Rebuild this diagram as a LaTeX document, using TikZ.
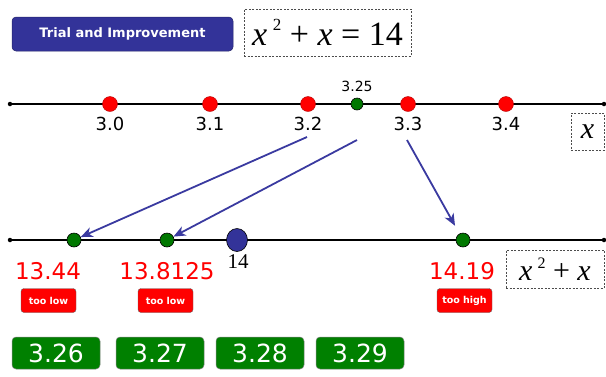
\documentclass[tikz,border=0pt]{standalone}
\usepackage{fontspec}
\setmainfont{Liberation Serif}
\newfontfamily\comic{DejaVu Sans}
\usetikzlibrary{arrows.meta,shapes.geometric}
\definecolor{navy}{RGB}{51,51,153}
\definecolor{arrblue}{RGB}{58,58,160}
\definecolor{btngreen}{RGB}{0,128,0}
\definecolor{dotgreen}{RGB}{0,120,0}
\tikzset{
  dashbox/.style={draw=black!70, dashed, dash pattern=on 2pt off 1.5pt, line width=0.6pt, inner sep=0pt},
  reddot/.style={circle, fill=red, draw=red!70!black, line width=0.4pt, minimum size=15pt, inner sep=0pt},
  greendot/.style={circle, fill=dotgreen, draw=black, line width=0.6pt, minimum size=14pt, inner sep=0pt},
  enddot/.style={circle, fill=black, minimum size=4.5pt, inner sep=0pt},
  axislabel/.style={font=\comic\fontsize{18}{18}\selectfont},
  redval/.style={text=red, font=\comic\fontsize{23}{23}\selectfont},
  verdict/.style={rounded corners=3pt, fill=red, draw=black!60, line width=0.4pt, minimum width=55pt, minimum height=24pt, inner sep=0pt, text=white, font=\comic\bfseries\fontsize{9.5}{9.5}\selectfont},
  tryit/.style={rounded corners=4pt, fill=btngreen, draw=black!50, line width=0.5pt, minimum width=88pt, minimum height=32pt, inner sep=0pt, text=white, font=\comic\fontsize{25}{25}\selectfont},
  arr/.style={draw=arrblue, line width=1.8pt, -{Stealth[length=12pt,width=10pt,inset=3.5pt]}}
}
\begin{document}
\begin{tikzpicture}[x=1pt,y=-1pt]
\useasboundingbox (0,0) rectangle (606,376);
% title
\node[rounded corners=4pt, fill=navy, draw=navy!70!black, line width=0.5pt, minimum width=221pt, minimum height=34pt, inner sep=0pt, text=white, font=\comic\bfseries\fontsize{13}{13}\selectfont] (title) at (122.5,34) {Trial and Improvement};
\node[dashbox, minimum width=167pt, minimum height=47pt, font=\fontsize{34}{34}\selectfont] (eq) at (327.5,32.5) {\itshape x\,\raisebox{0.42em}{\upshape\fontsize{17}{17}\selectfont 2} \upshape+ \itshape x \upshape= 14};
% top axis
\node[enddot] (tl) at (10,104) {};
\node[enddot] (tr) at (604,104) {};
\draw[line width=1.3pt] (tl) -- (tr);
\foreach \n/\xx/\lab in {30/110/3.0, 31/210/3.1, 32/308/3.2, 33/408/3.3, 34/506/3.4}{
  \node[reddot] (d\n) at (\xx,104) {};
  \node[axislabel] (l\n) at (\xx,123.5) {\lab};
}
\node[greendot, minimum size=12pt] (g325) at (357,104) {};
\node[font=\comic\fontsize{14}{14}\selectfont] (l325) at (357,86) {3.25};
\node[dashbox, minimum width=33pt, minimum height=37pt, font=\itshape\fontsize{30}{30}\selectfont] (xb) at (587.5,131.5) {x};
% bottom axis
\node[enddot] (bl) at (10,240) {};
\node[enddot] (br) at (604,240) {};
\draw[line width=1.3pt] (bl) -- (br);
\node[greendot] (g1) at (74,240) {};
\node[greendot] (g2) at (167,240) {};
\node[greendot] (g3) at (463,240) {};
\node[ellipse, fill=navy, draw=black, line width=0.6pt, minimum width=21pt, minimum height=23pt, inner sep=0pt] (b14) at (237,240) {};
\node[font=\fontsize{21}{21}\selectfont] (l14) at (238,262) {14};
% arrows
\coordinate (a1) at (307,137);
\coordinate (a2) at (357,140);
\coordinate (a3) at (407,140);
\draw[arr] (a1) -- (g1);
\draw[arr] (a2) -- (g2);
\draw[arr, shorten >=9pt] (a3) -- (g3);
% values
\node[redval] (v1) at (48,271) {13.44};
\node[redval] (v2) at (167,271) {13.8125};
\node[redval] (v3) at (462,271) {14.19};
\node[verdict] (t1) at (48.5,300.5) {too low};
\node[verdict] (t2) at (165.5,300.5) {too low};
\node[verdict] (t3) at (464.5,300.5) {too high};
\node[dashbox, minimum width=98pt, minimum height=38pt, font=\fontsize{30}{30}\selectfont] (fx) at (555,269) {\itshape x\,\raisebox{0.42em}{\upshape\fontsize{16}{16}\selectfont 2} \upshape+ \itshape x};
% buttons
\node[tryit] (b1) at (56,353) {3.26};
\node[tryit] (b2) at (160,353) {3.27};
\node[tryit] (b3) at (260,353) {3.28};
\node[tryit] (b4) at (360,353) {3.29};
\end{tikzpicture}
\end{document}
